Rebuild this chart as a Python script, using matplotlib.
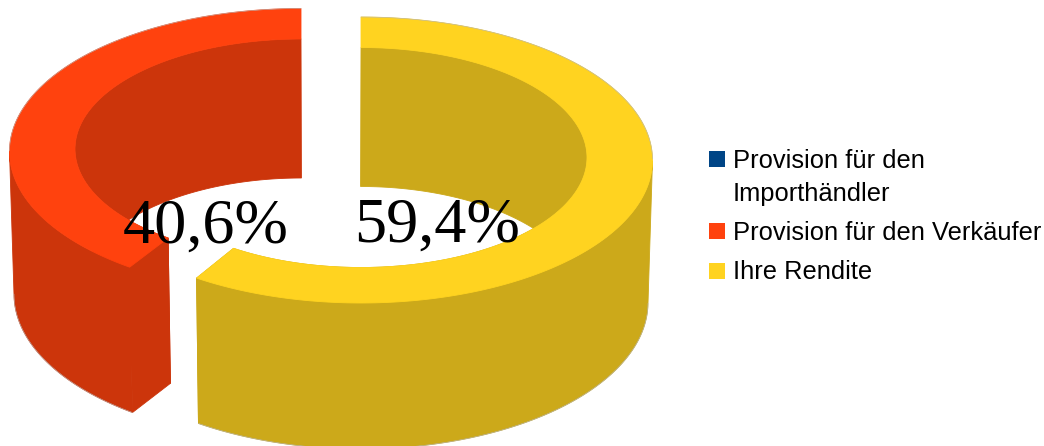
import numpy as np
import matplotlib
matplotlib.use('Agg')
import matplotlib.pyplot as plt
from matplotlib.patches import Polygon, Rectangle

labels = ['Provision für den\nImporthändler', 'Provision für den Verkäufer', 'Ihre Rendite']
shares = [0.0, 40.6, 59.4]
pct_labels = ['', '40,6%', '59,4%']
top_colors = ['#004586', '#FF420E', '#FFD320']
wall_colors = ['#003A70', '#CC350B', '#CCA91A']

W, H = 1044, 446
A_OUT, B_OUT = 291.5, 143.0
A_IN, B_IN = 226.0, 110.0
VANISH_X = 331.0


def top_pts(cx, cy, a, b, sign, th):
    return cx + sign * a * np.sin(th), cy - b * np.cos(th)


def bottom_pts(cx, cy, a, b, sign, th):
    x, y = top_pts(cx, cy, a, b, sign, th)
    return VANISH_X + (x - VANISH_X) * 0.986, y + 142.5 - 3.5 * np.cos(th)


def fill(ax, x, y, color, z):
    ax.add_patch(Polygon(np.column_stack([x, y]), closed=True, facecolor=color,
                         edgecolor=color, linewidth=0.6, zorder=z))


def draw_slice(ax, share, top_c, wall_c, cx, cy_out, cy_in, sign, sweep_fix=0.0):
    sweep = np.radians(share * 3.6 + sweep_fix)
    th = np.linspace(0, sweep, 300)

    # inner wall, the front part ends up hidden under the top face
    xi, yi = top_pts(cx, cy_in, A_IN, B_IN, sign, th)
    xb, yb = bottom_pts(cx, cy_in, A_IN, B_IN, sign, th)
    fill(ax, np.r_[xi, xb[::-1]], np.r_[yi, yb[::-1]], wall_c, 2)

    # cut face at the end of the slice
    xo, yo = top_pts(cx, cy_out, A_OUT, B_OUT, sign, th)
    xob, yob = bottom_pts(cx, cy_out, A_OUT, B_OUT, sign, th)
    fill(ax, [xo[-1], xi[-1], xb[-1], xob[-1]], [yo[-1], yi[-1], yb[-1], yob[-1]], wall_c, 2)

    # outer wall, only the half that faces us
    front = th >= np.pi / 2
    fill(ax, np.r_[xo[front], xob[front][::-1]], np.r_[yo[front], yob[front][::-1]], wall_c, 3)
    ax.plot(xob[front], yob[front], color='#b5b5b5', lw=0.4, zorder=3)
    ax.plot(xo[~front], yo[~front], color='#b5b5b5', lw=0.4, zorder=5)

    # top face
    fill(ax, np.r_[xo, xi[::-1]], np.r_[yo, yi[::-1]], top_c, 4)


fig = plt.figure(figsize=(W / 100, H / 100), dpi=100)
ax = fig.add_axes([0, 0, 1, 1])
ax.set_xlim(0, W)
ax.set_ylim(H, 0)
ax.axis('off')

draw_slice(ax, shares[1], top_colors[1], wall_colors[1], 301.0, 151.5, 149.0, -1, sweep_fix=-2.16)
draw_slice(ax, shares[2], top_colors[2], wall_colors[2], 361.0, 160.0, 157.5, 1, sweep_fix=0.5)

ax.text(123, 243, pct_labels[1], family='Liberation Serif', fontsize=46.3, va='baseline', zorder=6)
ax.text(354.5, 242, pct_labels[2], family='Liberation Serif', fontsize=46.3, va='baseline', zorder=6)

# legend
swatch_y = [151, 223, 263]
text_y = [168, 240, 279]
for lab, col, sy, ty in zip(labels, top_colors, swatch_y, text_y):
    ax.add_patch(Rectangle((709, sy), 16, 16, facecolor=col, edgecolor='none'))
    lines = lab.split('\n')
    for i, line in enumerate(lines):
        ax.text(733, ty + i * 33, line, family='Liberation Sans', fontsize=18.4, va='baseline', color='black')

fig.savefig('out.png', dpi=100)
plt.close(fig)
